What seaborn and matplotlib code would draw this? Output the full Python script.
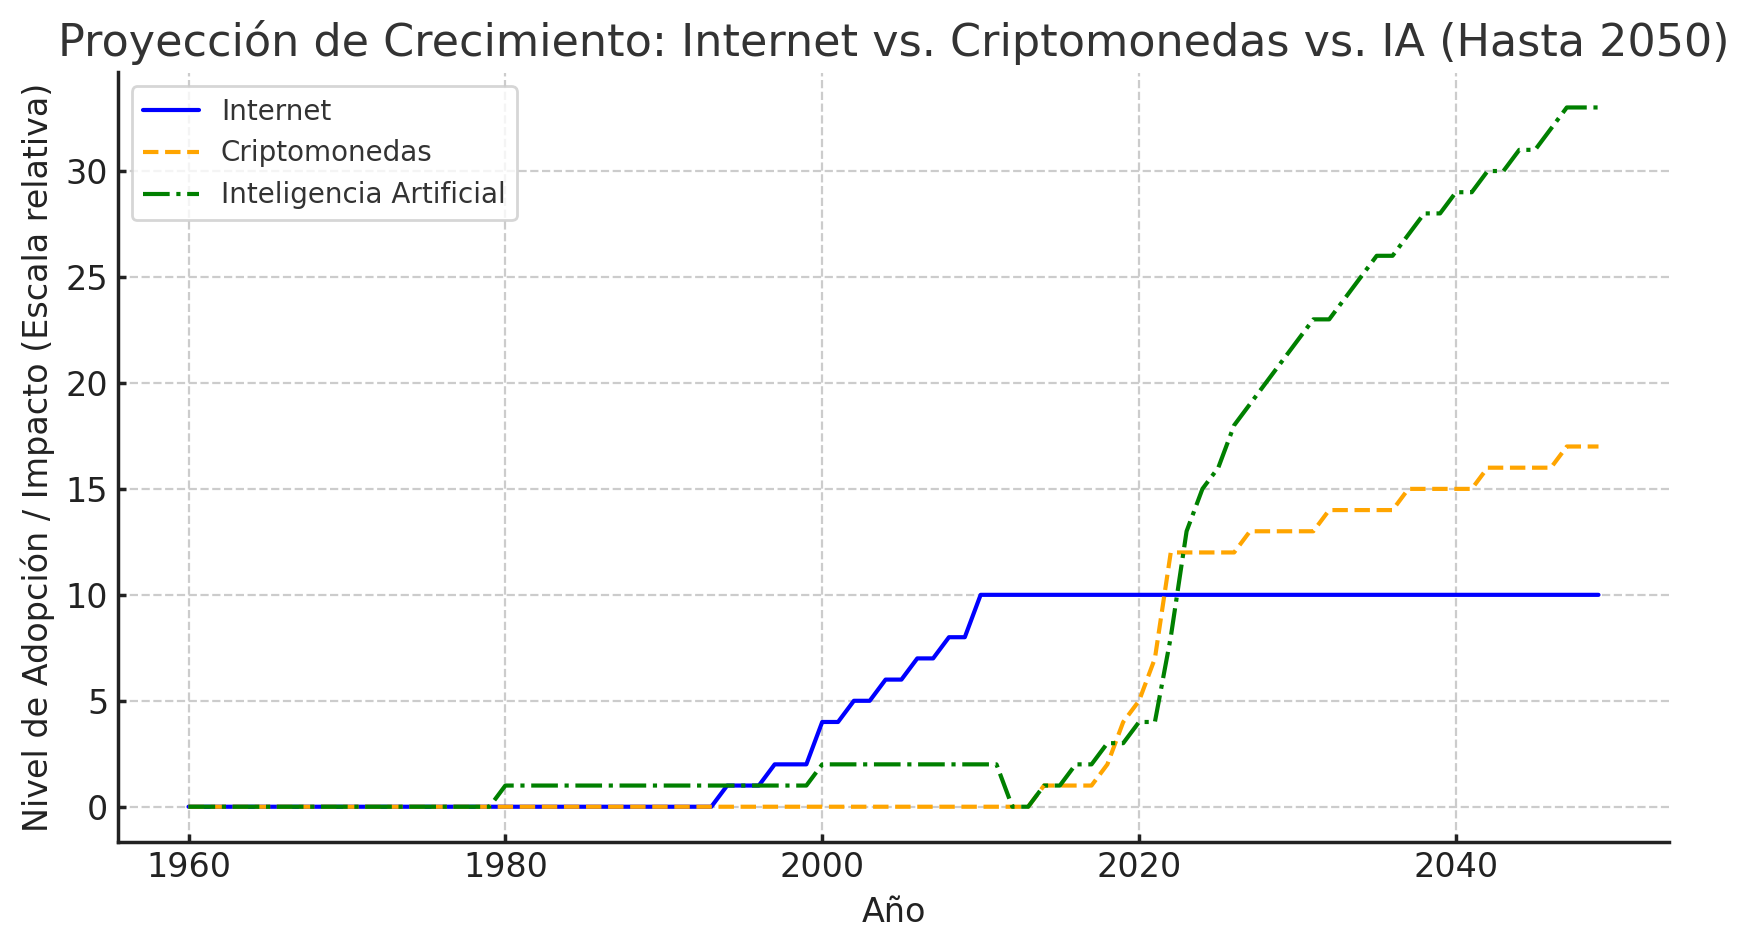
import numpy as np
import pandas as pd
import matplotlib
matplotlib.use("Agg")
import matplotlib.pyplot as plt
import seaborn as sns

years = list(range(1960, 2050))

internet = ([0] * 34 + [1] * 3 + [2] * 3 + [4] * 2 + [5] * 2 + [6] * 2 +
            [7] * 2 + [8] * 2 + [10] * 40)

cripto = ([0] * 54 + [1] * 4 + [2, 4, 5, 7] + [12] * 5 + [13] * 5 +
          [14] * 5 + [15] * 5 + [16] * 5 + [17] * 3)

ia = ([0] * 20 + [1] * 20 + [2] * 12 + [0] * 2 + [1] * 2 + [2] * 2 +
      [3] * 2 + [4] * 2 +
      [8, 13, 15, 16, 18, 19, 20, 21, 22, 23, 23, 24, 25, 26, 26, 27, 28,
       28, 29, 29, 30, 30, 31, 31, 32, 33, 33, 33])

series_names = ["Internet", "Criptomonedas", "Inteligencia Artificial"]
title = "Proyección de Crecimiento: Internet vs. Criptomonedas vs. IA (Hasta 2050)"
xlabel = "Año"
ylabel = "Nivel de Adopción / Impacto (Escala relativa)"

sns.set_style("white")
plt.rcParams["font.family"] = ["DejaVu Sans"]
plt.rcParams["axes.linewidth"] = 1.25

fig, ax = plt.subplots(figsize=(17.48 / 2, 9.49 / 2), dpi=200)
fig.subplots_adjust(left=118 / 1748, right=1669 / 1748, bottom=1 - 841.7 / 949, top=1 - 72.5 / 949)

styles = [("blue", "-"), ("orange", "--"), ("green", "-.")]
for name, vals, (c, ls) in zip(series_names, [internet, cripto, ia], styles):
    df = pd.DataFrame({"year": years, "value": vals})
    sns.lineplot(data=df, x="year", y="value", ax=ax, color=c, linestyle=ls,
                 linewidth=1.5, label=name)

ax.set_title(title, fontsize=16, color="#333333", pad=6)
ax.set_xlabel(xlabel, fontsize=12, color="#222222")
ax.set_ylabel(ylabel, fontsize=12, color="#222222")
ax.set_xticks([1960, 1980, 2000, 2020, 2040])
ax.set_yticks([0, 5, 10, 15, 20, 25, 30])
ax.tick_params(axis="both", direction="in", length=3, width=1.25,
               labelsize=12, colors="#222222", left=True, bottom=True)
ax.grid(True, linestyle="--", color="#cccccc", linewidth=0.8)
ax.set_axisbelow(True)
for s in ["top", "right"]:
    ax.spines[s].set_visible(False)
for s in ["left", "bottom"]:
    ax.spines[s].set_color("#222222")

leg = ax.legend(loc="upper left", fontsize=10, frameon=True, fancybox=True,
                edgecolor="#cccccc", framealpha=0.8)
for t in leg.get_texts():
    t.set_color("#333333")

fig.savefig("out.png", dpi=200)
